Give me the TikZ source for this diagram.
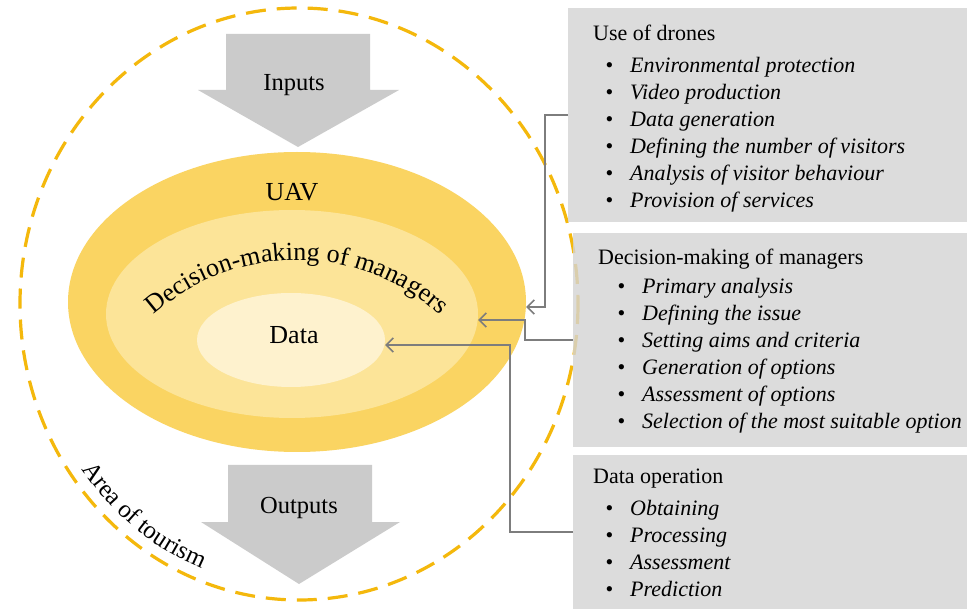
\documentclass[tikz,border=0pt]{standalone}
\usepackage{fontspec}
\setmainfont{Liberation Serif}
\usetikzlibrary{arrows.meta,shapes.geometric,decorations.text}
\definecolor{ringout}{RGB}{250,212,98}
\definecolor{ringmid}{RGB}{252,228,152}
\definecolor{ringin}{RGB}{254,242,206}
\definecolor{tourdash}{RGB}{244,184,12}
\definecolor{flowgray}{RGB}{203,203,203}
\definecolor{panelgray}{RGB}{212,212,212}
\definecolor{linkgray}{RGB}{125,125,125}
\newcommand\bulitem[1]{\llap{\upshape\textbullet\hspace{17pt}}#1}
\begin{document}
\begin{tikzpicture}[x=1pt,y=-1pt,
  ring/.style={ellipse, inner sep=0pt, draw=none},
  panel/.style={rectangle, fill=panelgray, fill opacity=0.8, anchor=north west, inner sep=0pt},
  head/.style={anchor=base west, font=\fontsize{22}{27}\selectfont, inner sep=0pt},
  item/.style={anchor=base west, font=\fontsize{22}{27}\selectfont\itshape, inner sep=0pt},
  big/.style={anchor=base, font=\fontsize{26}{30}\selectfont, inner sep=0pt},
  flowtext/.style={anchor=base, font=\fontsize{24.5}{28}\selectfont, inner sep=0pt},
  link/.style={draw=linkgray, line width=1.5pt, -{Straight Barb[length=7pt,width=14pt]}},
]
\useasboundingbox (0,0) rectangle (967,609);
\fill[white] (0,0) rectangle (967,609);

% area of tourism (dashed boundary)
\draw[tourdash, line width=3.2pt, dash pattern=on 20pt off 11pt] (299,304) ellipse [x radius=279, y radius=296];
\path[decorate, decoration={text along path, text align=center,
  text={|\fontsize{25}{28}\selectfont|Area of tourism}}]
  plot[domain=162:93, samples=60] ({299+267*cos(\x)},{304+284*sin(\x)});

% nested rings
\node[ring, fill=ringout, minimum width=458pt, minimum height=300pt] (outer) at (297,302) {};
\node[ring, fill=ringmid, minimum width=372pt, minimum height=208pt] (middle) at (292,314) {};
\node[ring, fill=ringin, minimum width=188pt, minimum height=94pt] (inner) at (291,340) {};
\node[big] (uav) at (292,201) {UAV};
\node[big] (data) at (294,344) {Data};
\path[decorate, decoration={text along path, text align=center,
  text={|\fontsize{26}{30}\selectfont|Decision-making of managers}}]
  plot[domain=-160:-20, samples=80] ({297+213*cos(\x)},{473+213*sin(\x)});

% input and output flows
\fill[flowgray] (226,34) -- (370,34) -- (370,90) -- (399,90) -- (298,147) -- (198,90) -- (226,90) -- cycle;
\node[flowtext] (inputs) at (294,91) {Inputs};
\fill[flowgray] (228,465) -- (372,465) -- (372,522) -- (400,522) -- (299,584) -- (201,522) -- (228,522) -- cycle;
\node[flowtext] (outputs) at (299,513) {Outputs};

% panels
\node[panel, minimum width=399pt, minimum height=214pt] (box1) at (568,8) {};
\node[panel, minimum width=394pt, minimum height=214pt] (box2) at (573,233) {};
\node[panel, minimum width=394pt, minimum height=154pt] (box3) at (573,455) {};

\node[head] (t1) at (593,41) {Use of drones};
\node[item] (t1a) at (630,73) {\bulitem{Environmental protection}};
\node[item] (t1b) at (630,100) {\bulitem{Video production}};
\node[item] (t1c) at (630,127) {\bulitem{Data generation}};
\node[item] (t1d) at (630,154) {\bulitem{Defining the number of visitors}};
\node[item] (t1e) at (630,181) {\bulitem{Analysis of visitor behaviour}};
\node[item] (t1f) at (630,208) {\bulitem{Provision of services}};

\node[head] (t2) at (598,265) {Decision-making of managers};
\node[item] (t2a) at (642,294) {\bulitem{Primary analysis}};
\node[item] (t2b) at (642,321) {\bulitem{Defining the issue}};
\node[item] (t2c) at (642,348) {\bulitem{Setting aims and criteria}};
\node[item] (t2d) at (642,375) {\bulitem{Generation of options}};
\node[item] (t2e) at (642,402) {\bulitem{Assessment of options}};
\node[item] (t2f) at (642,429) {\bulitem{Selection of the most suitable option}};

\node[head] (t3) at (593,483) {Data operation};
\node[item] (t3a) at (630,515) {\bulitem{Obtaining}};
\node[item] (t3b) at (630,542) {\bulitem{Processing}};
\node[item] (t3c) at (630,569) {\bulitem{Assessment}};
\node[item] (t3d) at (630,596) {\bulitem{Prediction}};

% links from panels to rings
\draw[link] (box1.west) -- ++(-23,0) |- ([yshift=-5pt]outer.east);
\draw[link] (box2.west) -- ++(-48,0) |- ([yshift=-6pt]middle.east);
\draw[link] (box3.west) -- ++(-63,0) |- ([yshift=-5pt]inner.east);
\end{tikzpicture}
\end{document}
